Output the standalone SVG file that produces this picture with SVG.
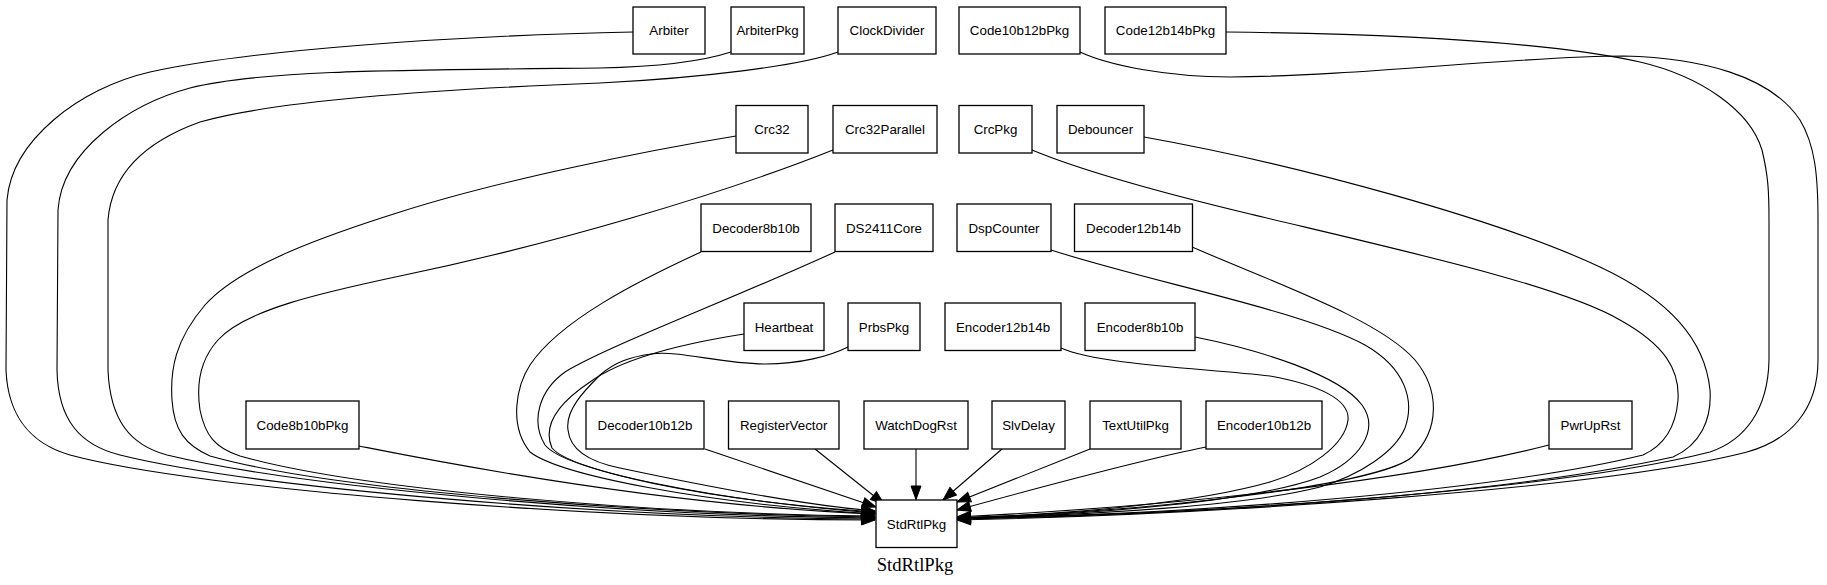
<svg xmlns="http://www.w3.org/2000/svg" width="1827" height="585" viewBox="0 0 1827 585">
<style>
.n rect{fill:#fff;stroke:#000;stroke-width:1.3}
.n text{font-family:"Liberation Sans",Arial,sans-serif;font-size:13.33px;text-anchor:middle;fill:#000}
#edges path{fill:none;stroke:#000;stroke-width:1.1;marker-end:url(#arr)}
.title{font-family:"Liberation Serif","Times New Roman",serif;font-size:18.67px;text-anchor:middle;fill:#000}
</style>
<defs>
<marker id="arr" markerUnits="userSpaceOnUse" viewBox="0 0 14 10" markerWidth="14" markerHeight="10" refX="13.5" refY="5" orient="auto" overflow="visible">
<path d="M0,0 L13.5,5 L0,10 z" fill="#000" stroke="#000" stroke-width="1"/>
</marker>
</defs>
<rect width="1827" height="585" fill="#fff"/>
<g id="edges">
<path d="M633,32 C450,36 250,50 150,72 C80,88 12,140 7,200 L6,370 C8,420 35,445 70,455 C200,490 600,520 875,520"/>
<path d="M731,52 C700,62 650,67 600,68 C400,70 260,70 190,88 C130,104 62,150 58,210 L57,370 C58,420 80,445 120,455 C250,487 600,518 875,519"/>
<path d="M838,52 C800,66 700,78 600,83 C420,90 270,102 200,122 C150,140 112,170 108,220 L108,370 C110,420 130,445 167,455 C300,487 620,516 875,518"/>
<path d="M736,136 C650,150 500,180 400,212 C330,234 240,265 205,305 C175,340 170,370 172,400 C174,430 185,445 210,456 C330,490 640,514 875,517"/>
<path d="M833,150 C720,195 550,245 400,276 C320,293 245,310 218,340 C198,362 197,390 200,410 C205,435 215,448 240,456 C360,490 650,514 875,516"/>
<path d="M701,252 C640,280 560,320 530,365 C517,385 508,425 530,452 C560,475 700,503 875,514"/>
<path d="M835,252 C730,300 610,345 565,372 C540,390 530,420 545,445 C565,470 710,500 875,513"/>
<path d="M744,334 C680,344 620,360 590,382 C560,402 542,425 552,448 C570,470 700,500 875,512"/>
<path d="M848,347 C830,356 800,364 766,364 C720,364 680,350 651,354 C630,357 615,362 600,375 C585,390 565,410 568,430 C570,450 590,462 620,468 C700,485 800,505 875,511"/>
<path d="M359,446 C420,458 650,505 875,514"/>
<path d="M705,449 L876,507"/>
<path d="M815,449 L884,504"/>
<path d="M916,449 L916,499.5"/>
<path d="M1002,449 L943,500"/>
<path d="M1090,449 L957,502"/>
<path d="M1206,447 C1150,458 1030,490 957,510"/>
<path d="M1549,445 C1420,478 1200,505 957,517"/>
<path d="M1080,52 C1110,66 1170,77 1230,77 C1360,76 1520,56 1624,56 C1700,58 1770,75 1800,120 C1815,145 1818,175 1818,220 L1818,360 C1818,410 1790,440 1747,452 C1600,490 1200,515 957,520"/>
<path d="M1226,32 C1400,34 1550,42 1640,62 C1700,76 1750,110 1762,150 C1768,175 1769,190 1769,220 L1769,360 C1768,410 1745,440 1710,452 C1560,490 1200,515 957,519"/>
<path d="M1144,137 C1300,165 1500,220 1600,267 C1670,300 1705,340 1710,390 C1712,420 1700,445 1673,457 C1500,495 1200,515 957,518"/>
<path d="M1032,150 C1080,170 1150,190 1250,214 C1400,250 1560,285 1620,320 C1665,345 1680,370 1678,400 C1676,425 1665,445 1643,455 C1500,490 1200,515 957,518"/>
<path d="M1192,247 C1280,285 1380,320 1415,360 C1440,390 1440,430 1412,457 C1380,485 1150,512 957,518"/>
<path d="M1051,250 C1150,282 1300,310 1365,345 C1405,368 1415,400 1405,428 C1395,452 1360,475 1320,487 C1250,505 1100,515 957,518"/>
<path d="M1195,337 C1260,350 1340,375 1362,405 C1380,430 1360,460 1320,477 C1260,500 1100,515 957,518"/>
<path d="M1061,348 C1100,365 1200,368 1270,376 C1320,385 1350,400 1348,420 C1345,445 1310,470 1270,482 C1200,502 1080,514 957,518"/>
</g>
<g id="Arbiter" class="n"><rect x="633" y="7" width="72" height="47"/><text x="669" y="35.3">Arbiter</text></g>
<g id="ArbiterPkg" class="n"><rect x="731" y="7" width="73" height="47"/><text x="767.5" y="35.3">ArbiterPkg</text></g>
<g id="ClockDivider" class="n"><rect x="838" y="7" width="98" height="47"/><text x="887" y="35.3">ClockDivider</text></g>
<g id="Code10b12bPkg" class="n"><rect x="959" y="7" width="121" height="47"/><text x="1019.5" y="35.3">Code10b12bPkg</text></g>
<g id="Code12b14bPkg" class="n"><rect x="1105" y="7" width="121" height="47"/><text x="1165.5" y="35.3">Code12b14bPkg</text></g>
<g id="Crc32" class="n"><rect x="736" y="105.5" width="72" height="47.5"/><text x="772" y="134">Crc32</text></g>
<g id="Crc32Parallel" class="n"><rect x="833" y="105.5" width="104" height="47.5"/><text x="885" y="134">Crc32Parallel</text></g>
<g id="CrcPkg" class="n"><rect x="959" y="105.5" width="73" height="47.5"/><text x="995.5" y="134">CrcPkg</text></g>
<g id="Debouncer" class="n"><rect x="1057" y="105.5" width="87" height="47.5"/><text x="1100.5" y="134">Debouncer</text></g>
<g id="Decoder8b10b" class="n"><rect x="701" y="204" width="110" height="47.5"/><text x="756" y="232.6">Decoder8b10b</text></g>
<g id="DS2411Core" class="n"><rect x="835" y="204" width="98" height="47.5"/><text x="884" y="232.6">DS2411Core</text></g>
<g id="DspCounter" class="n"><rect x="957" y="204" width="94" height="47.5"/><text x="1004" y="232.6">DspCounter</text></g>
<g id="Decoder12b14b" class="n"><rect x="1074.5" y="204" width="118" height="47.5"/><text x="1133.5" y="232.6">Decoder12b14b</text></g>
<g id="Heartbeat" class="n"><rect x="744" y="303" width="80" height="47.5"/><text x="784" y="331.6">Heartbeat</text></g>
<g id="PrbsPkg" class="n"><rect x="848" y="303" width="72" height="47.5"/><text x="884" y="331.6">PrbsPkg</text></g>
<g id="Encoder12b14b" class="n"><rect x="945" y="303" width="116" height="47.5"/><text x="1003" y="331.6">Encoder12b14b</text></g>
<g id="Encoder8b10b" class="n"><rect x="1085" y="303" width="110" height="47.5"/><text x="1140" y="331.6">Encoder8b10b</text></g>
<g id="Code8b10bPkg" class="n"><rect x="246" y="401" width="113" height="48"/><text x="302.5" y="429.8">Code8b10bPkg</text></g>
<g id="Decoder10b12b" class="n"><rect x="586" y="401" width="118" height="48"/><text x="645" y="429.8">Decoder10b12b</text></g>
<g id="RegisterVector" class="n"><rect x="728.5" y="401" width="110.5" height="48"/><text x="783.7" y="429.8">RegisterVector</text></g>
<g id="WatchDogRst" class="n"><rect x="864" y="401" width="104" height="48"/><text x="916" y="429.8">WatchDogRst</text></g>
<g id="SlvDelay" class="n"><rect x="992" y="401" width="73" height="48"/><text x="1028.5" y="429.8">SlvDelay</text></g>
<g id="TextUtilPkg" class="n"><rect x="1090" y="401" width="91" height="48"/><text x="1135.5" y="429.8">TextUtilPkg</text></g>
<g id="Encoder10b12b" class="n"><rect x="1206" y="401" width="116" height="48"/><text x="1264" y="429.8">Encoder10b12b</text></g>
<g id="PwrUpRst" class="n"><rect x="1549" y="401" width="83" height="48"/><text x="1590.5" y="429.8">PwrUpRst</text></g>
<g id="StdRtlPkg" class="n"><rect x="876" y="500" width="81" height="47.5"/><text x="916.5" y="528.6">StdRtlPkg</text></g>
<text class="title" x="915" y="571">StdRtlPkg</text>
</svg>
